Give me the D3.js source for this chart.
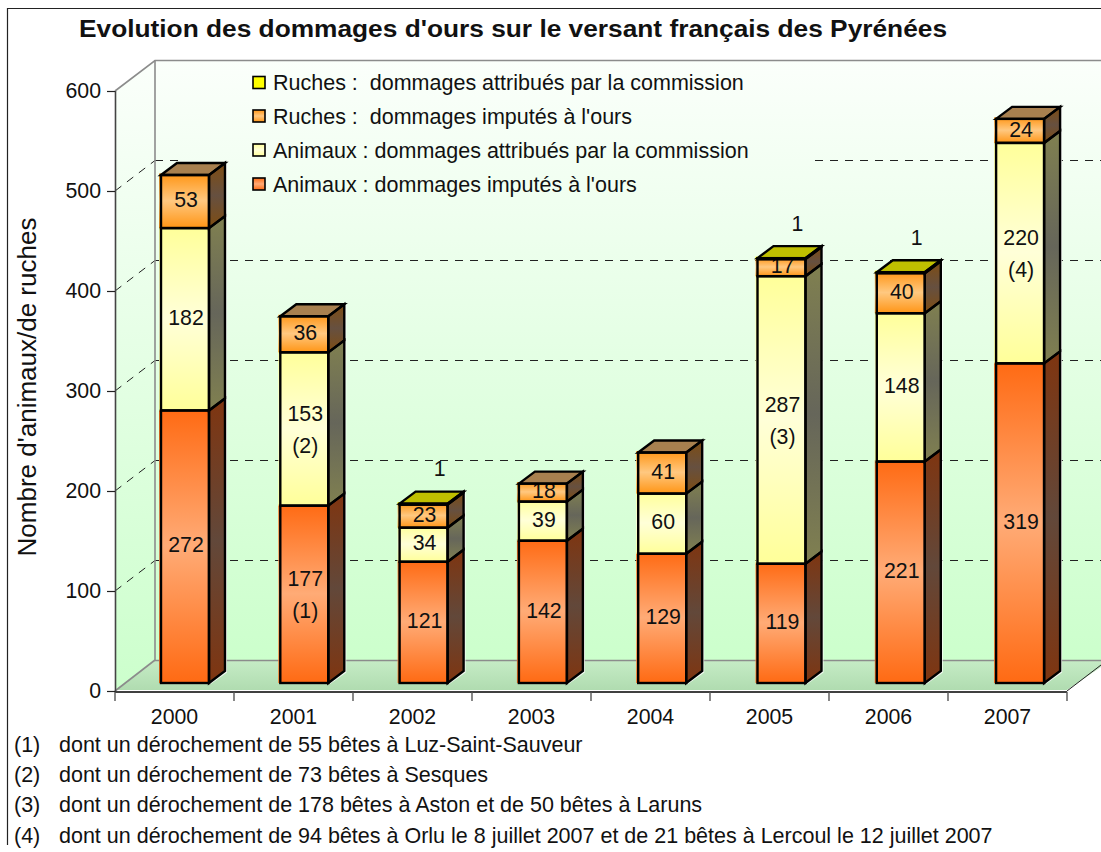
<!DOCTYPE html>
<html><head><meta charset="utf-8">
<script src="https://cdn.jsdelivr.net/npm/d3@7/dist/d3.min.js"></script>
<style>html,body{margin:0;padding:0;background:#fff}svg{display:block}text{font-family:"Liberation Sans",Arial,sans-serif;fill:#111;white-space:pre}</style>
</head><body><div id="c"></div>
<script>
const years = ["2000","2001","2002","2003","2004","2005","2006","2007"];
const animauxImputes = [272,177,121,142,129,119,221,319];
const animauxAttribues = [182,153,34,39,60,287,148,220];
const ruchesImputes = [53,36,23,18,41,17,40,24];
const ruchesAttribues = [0,0,1,0,0,1,1,0];
const notesImputes = ["","(1)","","","","","",""];
const notesAttribues = ["","(2)","","","","(3)","","(4)"];
const yTicks = [0,100,200,300,400,500,600];
const seriesNames = ["Ruches :  dommages attribués par la commission","Ruches :  dommages imputés à l'ours","Animaux : dommages attribués par la commission","Animaux : dommages imputés à l'ours"];
const seriesKeys = ["ra","ri","aa","ai"];
const footnotes = [
 ["(1)","dont un dérochement de 55 bêtes à Luz-Saint-Sauveur"],
 ["(2)","dont un dérochement de 73 bêtes à Sesques"],
 ["(3)","dont un dérochement de 178 bêtes à Aston et de 50 bêtes à Laruns"],
 ["(4)","dont un dérochement de 94 bêtes à Orlu le 8 juillet 2007 et de 21 bêtes à Lercoul le 12 juillet 2007"]];
const title = "Evolution des dommages d'ours sur le versant français des Pyrénées";
const yTitle = "Nombre d'animaux/de ruches";

const W=1101,H=852,FS=21.3;
const svg=d3.select("#c").append("svg").attr("width",W).attr("height",H);
const defs=svg.append("defs");
function grad(id,stops){
  const g=defs.append("linearGradient").attr("id",id).attr("x1",0).attr("y1",0).attr("x2",0).attr("y2",1);
  stops.forEach(([o,c])=>g.append("stop").attr("offset",o).attr("stop-color",c));
}
grad("wall",[[0,"#fbfffb"],[1,"#ccffcc"]]);
grad("floor",[[0,"#c6ecc6"],[1,"#b0dcb0"]]);
const palette={
  ai:{f:["#ff6a13","#ffab76","#ff6a13"],s:["#7f3510","#62483a","#7f3510"],t:"#a8602f"},
  aa:{f:["#ffff99","#ffffd8","#ffff99"],s:["#808050","#66665a","#808050"],t:"#b0b070"},
  ri:{f:["#ff9515","#ffc880","#ff9515"],s:["#7f4d12","#665040","#7f4d12"],t:"#a8804f"},
  ra:{f:["#ffff00","#ffff00","#ffff00"],s:["#808000","#808000","#808000"],t:"#bfbf00"}
};
seriesKeys.forEach(k=>{
  const p=palette[k];
  grad("f"+k,[[0,p.f[0]],[.5,p.f[1]],[1,p.f[2]]]);
  grad("s"+k,[[0,p.s[0]],[.5,p.s[1]],[1,p.s[2]]]);
});

// scales
const axisX=d3.scaleBand().domain(years).range([115,1067]);
const barX=d3.scaleBand().domain(years).range([161,161+8*119.3]);
const y=d3.scaleLinear().domain([0,600]).range([691,91]);
const barBase=y(0)-8, barW=48, dx=16, dy=12, wallDx=40, wallDy=31;
const hVal=d=>(y(0)-y(d))*1.002;

// walls
const wallTop=y(600)-wallDy, wallBot=y(0)-wallDy, bx=115+wallDx;
const line=d3.line();
svg.append("path").attr("d",line([[115,y(600)],[bx,wallTop],[bx,wallBot],[115,y(0)]])+"Z").attr("fill","url(#wall)");
svg.append("rect").attr("x",bx).attr("y",wallTop).attr("width",W-bx).attr("height",wallBot-wallTop).attr("fill","url(#wall)");
svg.append("path").attr("d",line([[115,y(0)-1],[bx,wallBot],[W,wallBot],[W,wallBot+7],[1067,y(0)-1]])+"Z").attr("fill","url(#floor)");

// gridlines
const legendGap=[180,815];
yTicks.filter(t=>t>0&&t<600).forEach(t=>{
  const yy=y(t)-wallDy+.5;
  const g=svg.append("g").attr("fill","none").attr("stroke","#222").attr("stroke-width",1).attr("stroke-dasharray","8 7");
  g.append("path").attr("d",line([[115,y(t)],[bx,yy]]));
  if(t===500){
    g.append("path").attr("d",line([[bx,yy],[legendGap[0],yy]]));
    g.append("path").attr("d",line([[legendGap[1],yy],[W,yy]]));
  } else g.append("path").attr("d",line([[bx,yy],[W,yy]]));
});
// wall edges
const gray="#8c8c8c";
const e=svg.append("g").attr("fill","none").attr("stroke",gray).attr("stroke-width",1.6);
e.append("path").attr("d",line([[115,y(600)],[bx,wallTop+.5],[W,wallTop+.5]]));
e.append("path").attr("d",line([[bx,wallTop],[bx,wallBot+.5],[W,wallBot+.5]]));
e.append("path").attr("d",line([[115,y(0)],[bx,wallBot]]));

// bars
const layerFill=svg.append("g"), layerLabel=svg.append("g"), layerStroke=svg.append("g").attr("fill","none").attr("stroke","#000").attr("stroke-width",2.4).attr("stroke-linejoin","miter");
years.forEach((yr,i)=>{
  const left=barX(yr), right=left+barW;
  const segs=[["ai",animauxImputes[i],notesImputes[i]],["aa",animauxAttribues[i],notesAttribues[i]],["ri",ruchesImputes[i],""],["ra",ruchesAttribues[i],""]].filter(s=>s[1]>0);
  let cum=0, topKey="ai";
  const total=d3.sum(segs,s=>s[1]);
  layerFill.append("path").attr("d",line([[right+1,barBase+1.5],[right+dx+2,barBase-dy+1.5],[right+dx+2,barBase-hVal(total)-dy],[right+1,barBase-hVal(total)]])+"Z").attr("fill","#fff").attr("opacity",.8);
  segs.forEach(([k,v,note])=>{
    const y0=barBase-hVal(cum), y1=barBase-hVal(cum+v);
    cum+=v; topKey=k;
    layerFill.append("rect").attr("x",left-2).attr("y",y1-1.5).attr("width",barW+2).attr("height",y0-y1+1.5).attr("fill","url(#f"+k+")");
    const side=line([[right,y0],[right+dx,y0-dy],[right+dx,y1-dy],[right,y1]])+"Z";
    layerFill.append("path").attr("d",side).attr("fill",v>1?"url(#s"+k+")":palette[k].s[0]);
    layerStroke.append("path").attr("d",side);
    layerStroke.append("rect").attr("x",left).attr("y",y1).attr("width",barW).attr("height",y0-y1);
    const cx=left+barW/2+1, cy=(y0+y1)/2;
    const lab=(yy,t,xx)=>layerLabel.append("text").attr("x",xx===undefined?cx:xx).attr("y",yy).attr("dy",".36em").attr("text-anchor","middle").attr("font-size",FS).text(t);
    if(k==="ra") lab(y1-35,v,cx+dx-1);
    else if(note){ lab(cy-16,v); lab(cy+16,note); }
    else lab(cy-2,v);
  });
  const yt=barBase-hVal(cum);
  const top=line([[left,yt],[left+dx,yt-dy],[right+dx,yt-dy],[right,yt]])+"Z";
  layerFill.append("path").attr("d",top).attr("fill",palette[topKey].t);
  layerStroke.append("path").attr("d",top);
});

// axes
const ax=svg.append("g").attr("transform","translate(115,0)");
ax.call(d3.axisLeft(y).tickValues(yTicks).tickSize(8).tickPadding(6).tickFormat(d3.format("d")));
ax.select(".domain").attr("stroke","#444").attr("stroke-width",1.6).attr("d","M0.5,"+y(600)+"V"+y(0));
ax.selectAll(".tick line").attr("stroke","#222").attr("stroke-width",1.2);
ax.selectAll("text").attr("font-size",FS).style("font-family",'"Liberation Sans"').attr("fill","#111");

const xg=svg.append("g").attr("transform","translate(0,"+(y(0)+1)+")");
xg.call(d3.axisBottom(axisX).tickSize(0).tickPadding(17));
xg.select(".domain").attr("stroke","#000").attr("stroke-width",1.6).attr("d","M115,0H1067");
xg.selectAll("text").attr("font-size",FS).style("font-family",'"Liberation Sans"').attr("fill","#111");
const tickPos=years.map(d=>axisX(d)).concat([axisX.range()[1]]);
xg.selectAll("line.bd").data(tickPos).join("line").attr("class","bd").attr("x1",d=>d).attr("x2",d=>d).attr("y1",0).attr("y2",9).attr("stroke","#555").attr("stroke-width",1.4);
svg.append("path").attr("d",line([[1067,y(0)],[W,y(0)-26]])).attr("stroke","#222").attr("fill","none");

// legend
const leg=svg.append("g");
const legY=[82.5,116,150,184];
seriesNames.forEach((n,i)=>{
  const k=seriesKeys[i];
  leg.append("rect").attr("x",253).attr("y",legY[i]-6).attr("width",12).attr("height",12).attr("fill",k==="ra"?"#ffff00":"url(#f"+k+")").attr("stroke","#000").attr("stroke-width",1.6);
  leg.append("text").attr("x",273).attr("y",legY[i]).attr("dy",".36em").attr("font-size",21.5).text(n);
});

// title and notes
svg.append("text").attr("x",79).attr("y",37).attr("font-size",23.5).attr("font-weight","bold").attr("fill","#000").attr("textLength",868).attr("lengthAdjust","spacingAndGlyphs").text(title);
svg.append("text").attr("transform","translate(36,387) rotate(-90)").attr("text-anchor","middle").attr("font-size",26).text(yTitle);
footnotes.forEach(([a,b],i)=>{
  const yy=752+i*30.2;
  svg.append("text").attr("x",14).attr("y",yy).attr("font-size",21.5).text(a);
  svg.append("text").attr("x",59).attr("y",yy).attr("font-size",21.5).text(b);
});
// frame
svg.append("path").attr("d","M7.5,845V8.5H"+W).attr("fill","none").attr("stroke","#222").attr("stroke-width",1.2);
</script></body></html>
